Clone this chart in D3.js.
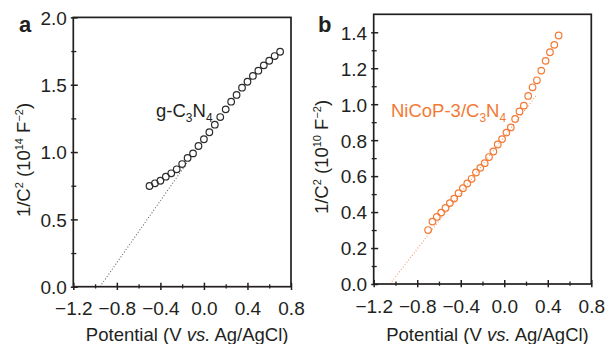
<!DOCTYPE html>
<html>
<head>
<meta charset="utf-8">
<script src="https://cdn.jsdelivr.net/npm/d3@7"></script>
<style>
  html, body { margin: 0; padding: 0; background: #fff; }
  svg { display: block; font-family: "Liberation Sans", Arial, Helvetica, sans-serif; }
</style>
</head>
<body>
<svg id="chart" width="606" height="344"></svg>
<script>
// Mott–Schottky data: potential (V vs. Ag/AgCl) and 1/C^2
const potentialA = [-0.50, -0.45, -0.40, -0.35, -0.30, -0.25, -0.20, -0.15, -0.10, -0.05,
  0.00, 0.05, 0.10, 0.15, 0.20, 0.25, 0.30, 0.35, 0.40, 0.45, 0.50, 0.55, 0.60, 0.65, 0.70];
const invC2A = [0.748, 0.768, 0.787, 0.817, 0.842, 0.872, 0.911, 0.956, 0.990, 1.045,
  1.095, 1.147, 1.203, 1.260, 1.317, 1.374, 1.424, 1.478, 1.522, 1.565, 1.604, 1.644, 1.678, 1.713, 1.745];
// linear fit extrapolated to the flat-band potential
const fitA = { x: [-0.955, -0.15], y: [0.0, 0.926] };

const potentialB = [-0.70, -0.66, -0.62, -0.58, -0.54, -0.50, -0.46, -0.42, -0.38, -0.34,
  -0.30, -0.26, -0.22, -0.18, -0.14, -0.10, -0.06, -0.02, 0.02, 0.06,
  0.10, 0.14, 0.18, 0.22, 0.26, 0.30, 0.34, 0.38, 0.42, 0.46, 0.50];
const invC2B = [0.300, 0.347, 0.373, 0.397, 0.423, 0.450, 0.475, 0.505, 0.533, 0.559,
  0.585, 0.620, 0.646, 0.672, 0.706, 0.737, 0.776, 0.806, 0.842, 0.871,
  0.918, 0.960, 0.992, 1.046, 1.094, 1.133, 1.187, 1.241, 1.289, 1.330, 1.382];
const fitB = { x: [-1.05, 0.30], y: [0.0, 1.053] };

const xTicksMajor = [-1.2, -0.8, -0.4, 0.0, 0.4, 0.8];
const xTicksMinor = [-1.0, -0.6, -0.2, 0.2, 0.6];
const yTicksMajorA = [0.0, 0.5, 1.0, 1.5, 2.0];
const yTicksMinorA = [0.25, 0.75, 1.25, 1.75];
const yTicksMajorB = [0.0, 0.2, 0.4, 0.6, 0.8, 1.0, 1.2, 1.4];
const yTicksMinorB = [0.1, 0.3, 0.5, 0.7, 0.9, 1.1, 1.3];

const svg = d3.select("#chart");
const ink = "#231f20";
const fmt = d3.format(".1f");
const tickFont = 19;
const titleFont = 18.5;

function drawPanel(p) {
  const g = svg.append("g");
  const x = d3.scaleLinear().domain([-1.2, 0.8]).range([p.left, p.right]);
  const y = d3.scaleLinear().domain(p.yDomain).range([p.bottom, p.top]);

  // fitted line (fine dots)
  g.append("path")
    .attr("d", d3.line().x(d => x(d[0])).y(d => y(d[1]))(d3.zip(p.fit.x, p.fit.y)))
    .attr("fill", "none")
    .attr("stroke", p.fitColor)
    .attr("stroke-width", 1.1)
    .attr("stroke-dasharray", "1,2");

  // bottom axis: major + minor ticks crossing the axis line
  const xMaj = g.append("g").attr("transform", `translate(0,${p.bottom})`)
    .call(d3.axisBottom(x).tickValues(xTicksMajor).tickFormat(fmt).tickSize(3.3));
  xMaj.selectAll(".tick line").attr("y1", -4).attr("stroke", ink).attr("stroke-width", 1.5);
  xMaj.selectAll(".tick text").attr("y", 0).attr("dy", 28.5)
    .attr("font-size", tickFont).attr("font-family", "Liberation Sans, Arial, sans-serif").attr("fill", ink);
  const xMin = g.append("g").attr("transform", `translate(0,${p.bottom})`)
    .call(d3.axisBottom(x).tickValues(xTicksMinor).tickFormat("").tickSize(1.8));
  xMin.selectAll(".tick line").attr("y1", -2.4).attr("stroke", ink).attr("stroke-width", 1.3);

  // left axis
  const yMaj = g.append("g").attr("transform", `translate(${p.left},0)`)
    .call(d3.axisLeft(y).tickValues(p.yMajor).tickFormat(fmt).tickSize(2.5));
  yMaj.selectAll(".tick line").attr("x1", 4.5).attr("stroke", ink).attr("stroke-width", 1.5);
  yMaj.selectAll(".tick text").attr("x", -6.5).attr("dy", "0.36em")
    .attr("font-size", tickFont).attr("font-family", "Liberation Sans, Arial, sans-serif").attr("fill", ink);
  const yMin = g.append("g").attr("transform", `translate(${p.left},0)`)
    .call(d3.axisLeft(y).tickValues(p.yMinor).tickFormat("").tickSize(2));
  yMin.selectAll(".tick line").attr("x1", 3).attr("stroke", ink).attr("stroke-width", 1.3);

  g.selectAll(".domain").remove();

  // frame
  g.append("rect")
    .attr("x", p.left).attr("y", p.top)
    .attr("width", p.right - p.left).attr("height", p.bottom - p.top)
    .attr("fill", "none").attr("stroke", ink).attr("stroke-width", 1.7);

  // data points
  g.append("g").selectAll("circle")
    .data(d3.zip(p.xs, p.ys))
    .join("circle")
    .attr("cx", d => x(d[0]))
    .attr("cy", d => y(d[1]))
    .attr("r", 3.3)
    .attr("fill", "none")
    .attr("stroke", p.color)
    .attr("stroke-width", 1.2);

  // series label with subscripts
  const lab = g.append("text")
    .attr("x", p.labelX).attr("y", p.labelY)
    .attr("font-size", 18.5).attr("fill", p.labelColor);
  p.labelParts.forEach(([t, sub]) => {
    const ts = lab.append("tspan").text(t);
    if (sub) ts.attr("font-size", 12).attr("dy", 5);
    else if (lab.selectAll("tspan").size() > 1) ts.attr("dy", -5);
  });

  // panel letter
  g.append("text").attr("x", p.letterX).attr("y", 31.5)
    .attr("font-size", 22).attr("font-weight", "bold").attr("fill", ink)
    .text(p.letter);

  // x-axis title
  const xt = g.append("text")
    .attr("x", (p.left + p.right) / 2 + 5).attr("y", 341)
    .attr("text-anchor", "middle").attr("font-size", titleFont).attr("fill", ink);
  xt.append("tspan").text("Potential (V ");
  xt.append("tspan").attr("font-style", "italic").text("vs.");
  xt.append("tspan").text(" Ag/AgCl)");

  // y-axis title
  const yt = g.append("text")
    .attr("transform", `translate(${p.yTitleX},${p.yTitleY}) rotate(-90)`)
    .attr("text-anchor", "middle").attr("font-size", titleFont).attr("fill", ink);
  yt.append("tspan").text("1/C");
  yt.append("tspan").attr("font-size", 11).attr("dy", -7).text("2");
  yt.append("tspan").attr("dy", 7).text(" (10");
  yt.append("tspan").attr("font-size", 11).attr("dy", -7).text(p.power);
  yt.append("tspan").attr("dy", 7).text(" F");
  yt.append("tspan").attr("font-size", 11).attr("dy", -7).text("\u22122");
  yt.append("tspan").attr("dy", 7).text(")");
}

drawPanel({
  left: 73.3, right: 291, top: 17.4, bottom: 286.7, yDomain: [0, 2.0],
  yMajor: yTicksMajorA, yMinor: yTicksMinorA,
  xs: potentialA, ys: invC2A, fit: fitA,
  color: "#2b2b2b", fitColor: "#666", labelColor: "#231f20",
  labelX: 156, labelY: 117, labelParts: [["g-C"], ["3", true], ["N"], ["4", true]],
  letter: "a", letterX: 19, power: "14", yTitleX: 29.5, yTitleY: 160
});

drawPanel({
  left: 373.7, right: 591.3, top: 14.3, bottom: 284, yDomain: [0, 1.5],
  yMajor: yTicksMajorB, yMinor: yTicksMinorB,
  xs: potentialB, ys: invC2B, fit: fitB,
  color: "#f27a36", fitColor: "#f59a68", labelColor: "#f27a36",
  labelX: 391, labelY: 117, labelParts: [["NiCoP-3/C"], ["3", true], ["N"], ["4", true]],
  letter: "b", letterX: 318, power: "10", yTitleX: 327.5, yTitleY: 157
});
</script>
</body>
</html>
